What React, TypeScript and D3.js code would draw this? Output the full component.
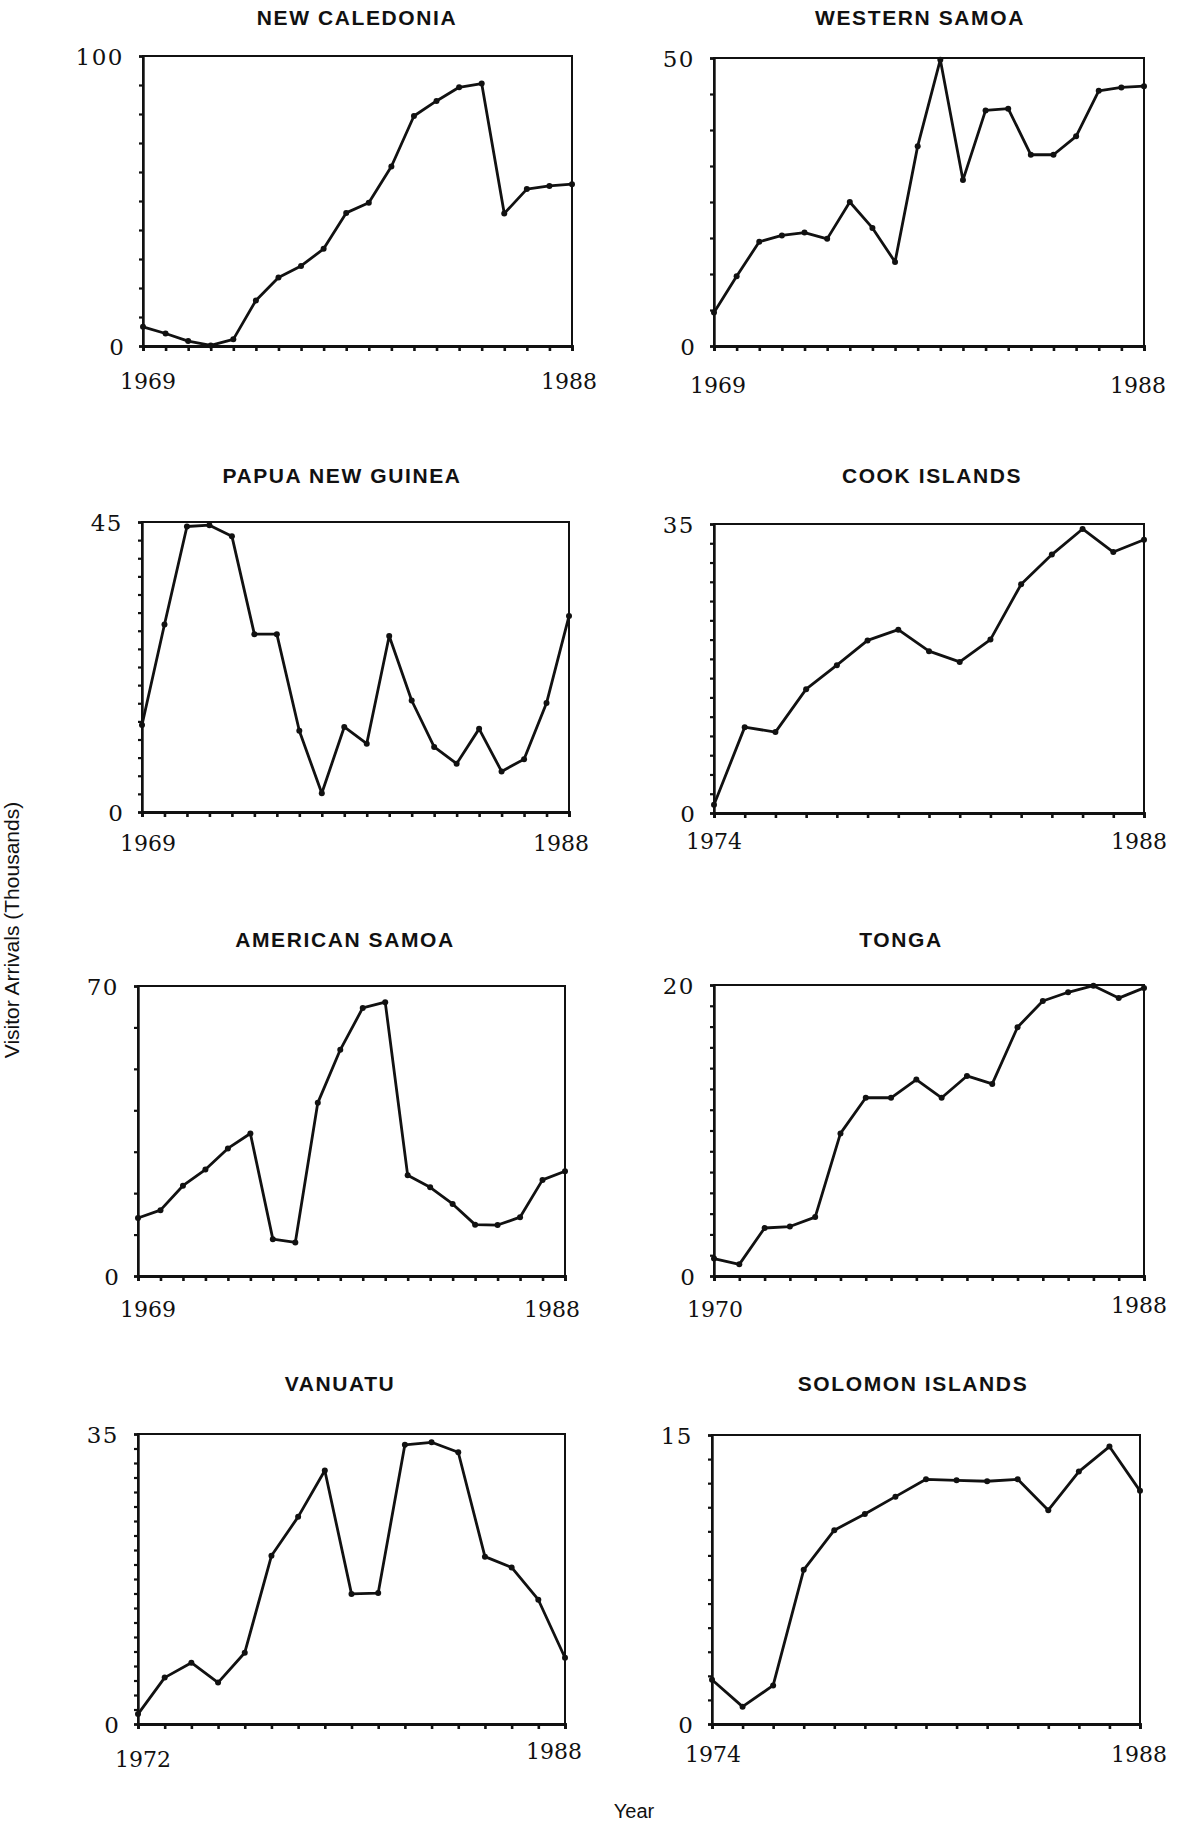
import React, { useEffect, useRef } from "react";
import * as d3 from "d3";

// Visitor arrivals (thousands), one value per year
const newCaledonia = [6.6, 4.3, 1.7, 0.2, 2.3, 15.7, 23.6, 27.6, 33.5, 45.9, 49.4, 61.9, 79.3, 84.5, 89.2, 90.5, 45.7, 54.1, 55.2, 55.8];
const westernSamoa = [5.8, 12.1, 18.1, 19.2, 19.7, 18.6, 25.0, 20.5, 14.6, 34.7, 49.7, 28.8, 40.9, 41.2, 33.2, 33.2, 36.4, 44.3, 44.9, 45.1];
const papuaNewGuinea = [13.5, 29.1, 44.3, 44.5, 42.8, 27.6, 27.6, 12.6, 2.9, 13.2, 10.6, 27.3, 17.3, 10.1, 7.5, 12.9, 6.3, 8.2, 16.9, 30.4];
const cookIslands = [1.0, 10.4, 9.8, 15.0, 17.9, 20.9, 22.2, 19.6, 18.3, 21.0, 27.7, 31.3, 34.4, 31.6, 33.1];
const americanSamoa = [14.0, 15.9, 21.8, 25.7, 30.8, 34.4, 8.9, 8.1, 41.8, 54.6, 64.7, 66.1, 24.3, 21.4, 17.4, 12.4, 12.3, 14.2, 23.2, 25.3];
const tonga = [1.2, 0.8, 3.3, 3.4, 4.05, 9.8, 12.25, 12.25, 13.5, 12.25, 13.75, 13.2, 17.1, 18.9, 19.5, 19.95, 19.1, 19.8];
const vanuatu = [1.2, 5.6, 7.4, 5.0, 8.6, 20.3, 25.0, 30.6, 15.7, 15.8, 33.7, 34.0, 32.8, 20.2, 18.9, 15.0, 8.0];
const solomonIslands = [2.3, 0.9, 2.0, 8.0, 10.06, 10.9, 11.8, 12.7, 12.65, 12.6, 12.7, 11.1, 13.1, 14.4, 12.1];

const titles = ["NEW CALEDONIA", "WESTERN SAMOA", "PAPUA NEW GUINEA", "COOK ISLANDS", "AMERICAN SAMOA", "TONGA", "VANUATU", "SOLOMON ISLANDS"];
const series = [newCaledonia, westernSamoa, papuaNewGuinea, cookIslands, americanSamoa, tonga, vanuatu, solomonIslands];
const startLabels = ["1969", "1969", "1969", "1974", "1969", "1970", "1972", "1974"];
const endLabels = ["1988", "1988", "1988", "1988", "1988", "1988", "1988", "1988"];
const yMax = [100, 50, 45, 35, 70, 20, 35, 15];
const yTickIntervals = [10, 8, 16, 15, 7, 14, 20, 12];

// Page layout of each small plot (frame + label spots)
const frames = [
  { l: 143, r: 572, t: 56, b: 346, titleX: 357, titleY: 25, sx: 148, sy: 381, ex: 569, ey: 381 },
  { l: 714, r: 1144, t: 58, b: 346, titleX: 920, titleY: 25, sx: 718, sy: 385, ex: 1138, ey: 385 },
  { l: 142, r: 569, t: 522, b: 812, titleX: 342, titleY: 483, sx: 148, sy: 843, ex: 561, ey: 843 },
  { l: 714, r: 1144, t: 524, b: 813, titleX: 932, titleY: 483, sx: 714, sy: 841, ex: 1139, ey: 841 },
  { l: 138, r: 565, t: 986, b: 1276, titleX: 345, titleY: 947, sx: 148, sy: 1309, ex: 552, ey: 1309 },
  { l: 714, r: 1144, t: 985, b: 1276, titleX: 901, titleY: 947, sx: 715, sy: 1309, ex: 1139, ey: 1305 },
  { l: 138, r: 565, t: 1434, b: 1724, titleX: 340, titleY: 1391, sx: 143, sy: 1759, ex: 554, ey: 1751 },
  { l: 712, r: 1140, t: 1435, b: 1724, titleX: 913, titleY: 1391, sx: 713, sy: 1754, ex: 1139, ey: 1754 },
];

const W = 1177;
const H = 1824;
const ink = "#111";
const numFont = "'DejaVu Serif', 'Liberation Serif', serif";
const sansFont = "'Liberation Sans', Arial, Helvetica, sans-serif";

export default function App() {
  const ref = useRef<SVGSVGElement>(null);

  useEffect(() => {
    const svg = d3.select(ref.current);
    svg.selectAll("*").remove();

    series.forEach((values, k) => {
      const f = frames[k];
      const g = svg.append("g");

      const x = d3.scaleLinear().domain([0, values.length - 1]).range([f.l, f.r]);
      const y = d3.scaleLinear().domain([0, yMax[k]]).range([f.b, f.t]);

      // frame
      g.append("rect")
        .attr("x", f.l).attr("y", f.t)
        .attr("width", f.r - f.l).attr("height", f.b - f.t)
        .attr("fill", "none").attr("stroke", ink).attr("stroke-width", 2);

      // year ticks
      const xAxis = g.append("g")
        .attr("transform", "translate(0," + f.b + ")")
        .call(d3.axisBottom(x).tickValues(d3.range(values.length)).tickSize(5).tickFormat(() => ""));
      xAxis.select(".domain").attr("stroke", ink).attr("stroke-width", 2.8);
      xAxis.selectAll(".tick line").attr("stroke", ink).attr("stroke-width", 2.6);

      // value ticks
      const n = yTickIntervals[k];
      const yAxis = g.append("g")
        .attr("transform", "translate(" + f.l + ",0)")
        .call(d3.axisLeft(y).tickValues(d3.range(n + 1).map(i => yMax[k] * i / n)).tickSize(4).tickFormat(() => ""));
      yAxis.select(".domain").attr("stroke", ink).attr("stroke-width", 2.4);
      yAxis.selectAll(".tick line").attr("stroke", ink).attr("stroke-width", 2.2);

      // axis numbers
      g.append("text")
        .attr("x", f.l - 19).attr("y", f.t).attr("dy", "0.38em")
        .attr("text-anchor", "end").attr("font-family", numFont).attr("font-size", 23)
        .attr("letter-spacing", 1.5)
        .attr("fill", ink).text(yMax[k]);
      g.append("text")
        .attr("x", f.l - 19).attr("y", f.b).attr("dy", "0.38em")
        .attr("text-anchor", "end").attr("font-family", numFont).attr("font-size", 23)
        .attr("fill", ink).text(0);
      g.append("text")
        .attr("x", f.sx).attr("y", f.sy).attr("dy", "0.35em")
        .attr("text-anchor", "middle").attr("font-family", numFont).attr("font-size", 22)
        .attr("fill", ink).text(startLabels[k]);
      g.append("text")
        .attr("x", f.ex).attr("y", f.ey).attr("dy", "0.35em")
        .attr("text-anchor", "middle").attr("font-family", numFont).attr("font-size", 22)
        .attr("fill", ink).text(endLabels[k]);

      // title
      g.append("text")
        .attr("x", f.titleX).attr("y", f.titleY)
        .attr("text-anchor", "middle").attr("font-family", sansFont)
        .attr("font-weight", "bold").attr("font-size", 21)
        .attr("letter-spacing", 1.6)
        .attr("fill", ink).text(titles[k]);

      // the series
      const line = d3.line<number>().x((d, i) => x(i)).y(d => y(d));
      g.append("path")
        .datum(values)
        .attr("d", line)
        .attr("fill", "none").attr("stroke", ink)
        .attr("stroke-width", 2.8).attr("stroke-linejoin", "round");

      g.selectAll(".pt")
        .data(values)
        .enter().append("circle")
        .attr("class", "pt")
        .attr("cx", (d, i) => x(i))
        .attr("cy", d => y(d))
        .attr("r", 3)
        .attr("fill", ink);
    });

    // shared axis titles
    svg.append("text")
      .attr("transform", "translate(19,930) rotate(-90)")
      .attr("text-anchor", "middle").attr("font-family", sansFont)
      .attr("font-size", 21).attr("fill", ink)
      .text("Visitor Arrivals (Thousands)");
    svg.append("text")
      .attr("x", 634).attr("y", 1818)
      .attr("text-anchor", "middle").attr("font-family", sansFont)
      .attr("font-size", 20).attr("fill", ink)
      .text("Year");
  }, []);

  return (
    <svg ref={ref} width={W} height={H}
      style={{ position: "absolute", left: 0, top: 0, background: "#fff" }} />
  );
}
